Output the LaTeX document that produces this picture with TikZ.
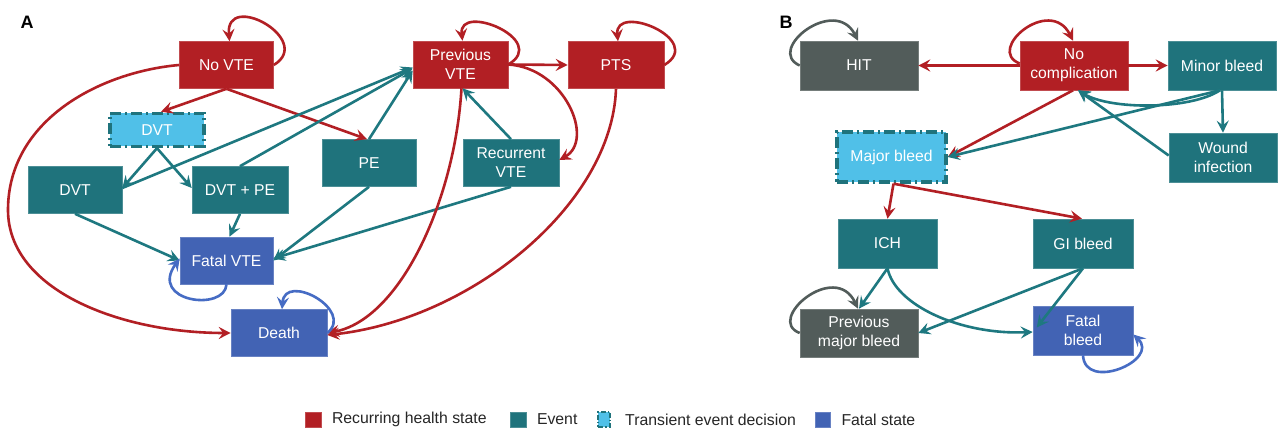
\documentclass[tikz,border=0pt]{standalone}
\usepackage{fontspec}
\setmainfont{Liberation Sans}
\usetikzlibrary{arrows,arrows.meta,shapes,positioning}
\definecolor{vtered}{RGB}{178,31,36}
\definecolor{evteal}{RGB}{31,115,124}
\definecolor{arteal}{RGB}{30,120,128}
\definecolor{trblue}{RGB}{80,192,232}
\definecolor{fatblue}{RGB}{66,99,180}
\definecolor{loopblue}{RGB}{70,108,196}
\definecolor{hitgray}{RGB}{82,92,90}

\begin{document}
\begin{tikzpicture}[x=1pt,y=-1pt]
                    \tikzstyle{every node}+=[inner sep=0pt]
                    \tikzstyle{box}=[rectangle, text=white, align=center, font=\fontsize{15.7}{19}\selectfont, minimum width=94pt, minimum height=47pt, line width=0.6pt]
                    \tikzstyle{recur}=[box, fill=vtered, draw=vtered!80!white]
                    \tikzstyle{event}=[box, fill=evteal, draw=evteal!80!white]
                    \tikzstyle{fatal}=[box, fill=fatblue, draw=fatblue!80!white]
                    \tikzstyle{prior}=[box, fill=hitgray, draw=hitgray!80!white]
                    \tikzstyle{trans}=[box, fill=trblue, draw=evteal, line width=3.4pt, dash pattern=on 11pt off 4pt on 2pt off 4pt]
                    \tikzstyle{arr}=[-{Stealth[length=12pt,width=12pt,inset=4.5pt]}, line width=2.6pt]
                    \tikzstyle{redarr}=[arr, draw=vtered]
                    \tikzstyle{tealarr}=[arr, draw=arteal]
                    \tikzstyle{bluearr}=[arr, draw=loopblue]
                    \tikzstyle{grayarr}=[arr, draw=hitgray]
                    \tikzstyle{legtext}=[text=black!85, font=\fontsize{15.8}{19}\selectfont]
                    \useasboundingbox (0,0) rectangle (1278,430);
                    \fill [white] (0,0) rectangle (1278,430);
                    \node [font=\fontsize{18}{20}\selectfont\bfseries] (labela) at (27,22) {A};
                    \node [font=\fontsize{18}{20}\selectfont\bfseries] (labelb) at (786,22) {B};
                    \node [recur] (novte) at (226.5,65) {No VTE};
                    \node [trans, minimum height=33pt] (dvtt) at (157,130) {DVT};
                    \node [event] (dvt) at (75,190) {DVT};
                    \node [event, minimum width=96pt] (dvtpe) at (240,190) {DVT + PE};
                    \node [event] (pe) at (369,163) {PE};
                    \node [recur, minimum width=95pt] (prevvte) at (460.5,64.5) {Previous\\VTE};
                    \node [recur, minimum width=96pt] (pts) at (616,65) {PTS};
                    \node [event, minimum width=96pt] (recvte) at (511,163) {Recurrent\\VTE};
                    \node [fatal, minimum width=93pt] (fatalvte) at (226.5,260.5) {Fatal VTE};
                    \node [fatal, minimum width=96pt] (death) at (279,333) {Death};
                    \draw [redarr] (novte.east) .. controls (315,40) and (225,-10) .. ([xshift=3pt]novte.north);
                    \draw [redarr] (novte.south) -- ([xshift=4pt]dvtt.north);
                    \draw [redarr] (novte.south) -- ([xshift=-2pt]pe.north);
                    \draw [redarr] (novte.west) .. controls (100,72) and (8,120) .. (8,210) .. controls (8,290) and (120,333) .. (death.west);
                    \draw [tealarr] (dvtt.south) -- ([yshift=2pt]dvt.east);
                    \draw [tealarr] (dvtt.south) -- ([yshift=2pt]dvtpe.west);
                    \draw [tealarr] ([yshift=2pt]dvt.east) -- ([yshift=-3pt]prevvte.west);
                    \draw [tealarr] (dvtpe.north) -- ([yshift=-4pt]prevvte.west);
                    \draw [tealarr] (pe.north) -- ([yshift=-6pt]prevvte.west);
                    \draw [tealarr] (dvt.south) -- (fatalvte.west);
                    \draw [tealarr] (dvtpe.south) -- ([xshift=3pt]fatalvte.north);
                    \draw [tealarr] (pe.south) -- (fatalvte.east);
                    \draw [tealarr] (recvte.south) -- ([yshift=2pt]fatalvte.east);
                    \draw [tealarr] (recvte.north) -- ([xshift=2pt]prevvte.south);
                    \draw [redarr] (prevvte.east) .. controls (550,40) and (458,2) .. ([xshift=2pt]prevvte.north);
                    \draw [redarr] (prevvte.east) -- (pts.west);
                    \draw [redarr] (prevvte.east) .. controls (565,68) and (595,140) .. ([yshift=3pt]recvte.east);
                    \draw [redarr] (pts.east) .. controls (706,40) and (614,2) .. ([xshift=2pt]pts.north);
                    \draw [redarr] ([xshift=1pt]prevvte.south) .. controls (455,200) and (400,320) .. (death.east);
                    \draw [redarr] (pts.south) .. controls (612,205) and (470,320) .. ([yshift=-2pt]death.east);
                    \draw [bluearr] (fatalvte.south) .. controls (225,312) and (148,302) .. ([yshift=2pt]fatalvte.west);
                    \draw [bluearr] (death.east) .. controls (355,310) and (285,272) .. ([xshift=3pt]death.north);
                    \node [prior, minimum width=118pt, minimum height=49pt] (hit) at (859,65.5) {HIT};
                    \node [recur, minimum width=108pt, minimum height=49pt] (nocomp) at (1074,65.5) {No\\complication};
                    \node [event, minimum width=108pt, minimum height=49pt] (minor) at (1222,65.5) {Minor bleed};
                    \node [trans, minimum width=109pt, minimum height=50pt] (major) at (891.5,157) {Major bleed};
                    \node [event, minimum width=108pt, minimum height=49pt] (wound) at (1223,157.5) {Wound\\infection};
                    \node [event, minimum width=99pt, minimum height=49pt] (ich) at (887.5,243.5) {ICH};
                    \node [event, minimum width=100pt, minimum height=49pt] (gi) at (1083,243.5) {GI bleed};
                    \node [prior, minimum width=118pt, minimum height=48pt] (pmb) at (859,333) {Previous\\major bleed};
                    \node [fatal, minimum width=100pt, minimum height=49pt] (fatalb) at (1083,330.5) {Fatal\\bleed};
                    \draw [grayarr] (hit.west) .. controls (765,50) and (835,-5) .. ([xshift=-1pt]hit.north);
                    \draw [redarr] (nocomp.west) -- (hit.east);
                    \draw [redarr] ([yshift=2pt]nocomp.west) .. controls (985,50) and (1050,-5) .. ([xshift=-1pt]nocomp.north);
                    \draw [redarr] (nocomp.east) -- (minor.west);
                    \draw [redarr] ([xshift=-1pt]nocomp.south) -- (major.east);
                    \draw [tealarr] ([xshift=-2pt]minor.south) -- (major.east);
                    \draw [tealarr] ([xshift=-2pt]minor.south) .. controls (1190,110) and (1110,110) .. ([xshift=4pt]nocomp.south);
                    \draw [tealarr] (minor.south) -- (wound.north);
                    \draw [tealarr] ([yshift=2pt]wound.west) -- ([xshift=4pt]nocomp.south);
                    \draw [redarr] ([xshift=2pt]major.south) -- (ich.north);
                    \draw [redarr] ([xshift=2pt]major.south) -- ([xshift=-1pt]gi.north);
                    \draw [tealarr] (ich.south) -- (pmb.north);
                    \draw [tealarr] (ich.south) .. controls (895,305) and (960,335) .. ([yshift=-1.5pt]fatalb.west);
                    \draw [tealarr] (gi.south) -- (pmb.east);
                    \draw [tealarr] (gi.south) -- ([xshift=4pt,yshift=3pt]fatalb.west);
                    \draw [grayarr] (pmb.west) .. controls (765,320) and (835,260) .. ([xshift=-1pt]pmb.north);
                    \draw [bluearr] (fatalb.south) .. controls (1085,392) and (1160,360) .. ([yshift=-4pt]fatalb.east);
                    \node [recur, minimum width=16pt, minimum height=15pt] (legrecur) at (313.5,419.5) {};
                    \node [legtext, right=10pt of legrecur] (legrecurtxt) {Recurring health state};
                    \node [event, minimum width=16pt, minimum height=15pt] (legevent) at (518.5,419.5) {};
                    \node [legtext, right=10pt of legevent] (legeventtxt) {Event};
                    \node [trans, minimum width=12pt, minimum height=15pt, line width=2pt, dash pattern=on 5pt off 2pt on 1.5pt off 2pt] (legtrans) at (604,419.5) {};
                    \node [legtext, right=14pt of legtrans] (legtranstxt) {Transient event decision};
                    \node [fatal, minimum width=15pt, minimum height=15pt] (legfatal) at (822.5,419.5) {};
                    \node [legtext, right=11pt of legfatal] (legfataltxt) {Fatal state};
                \end{tikzpicture}
\end{document}
